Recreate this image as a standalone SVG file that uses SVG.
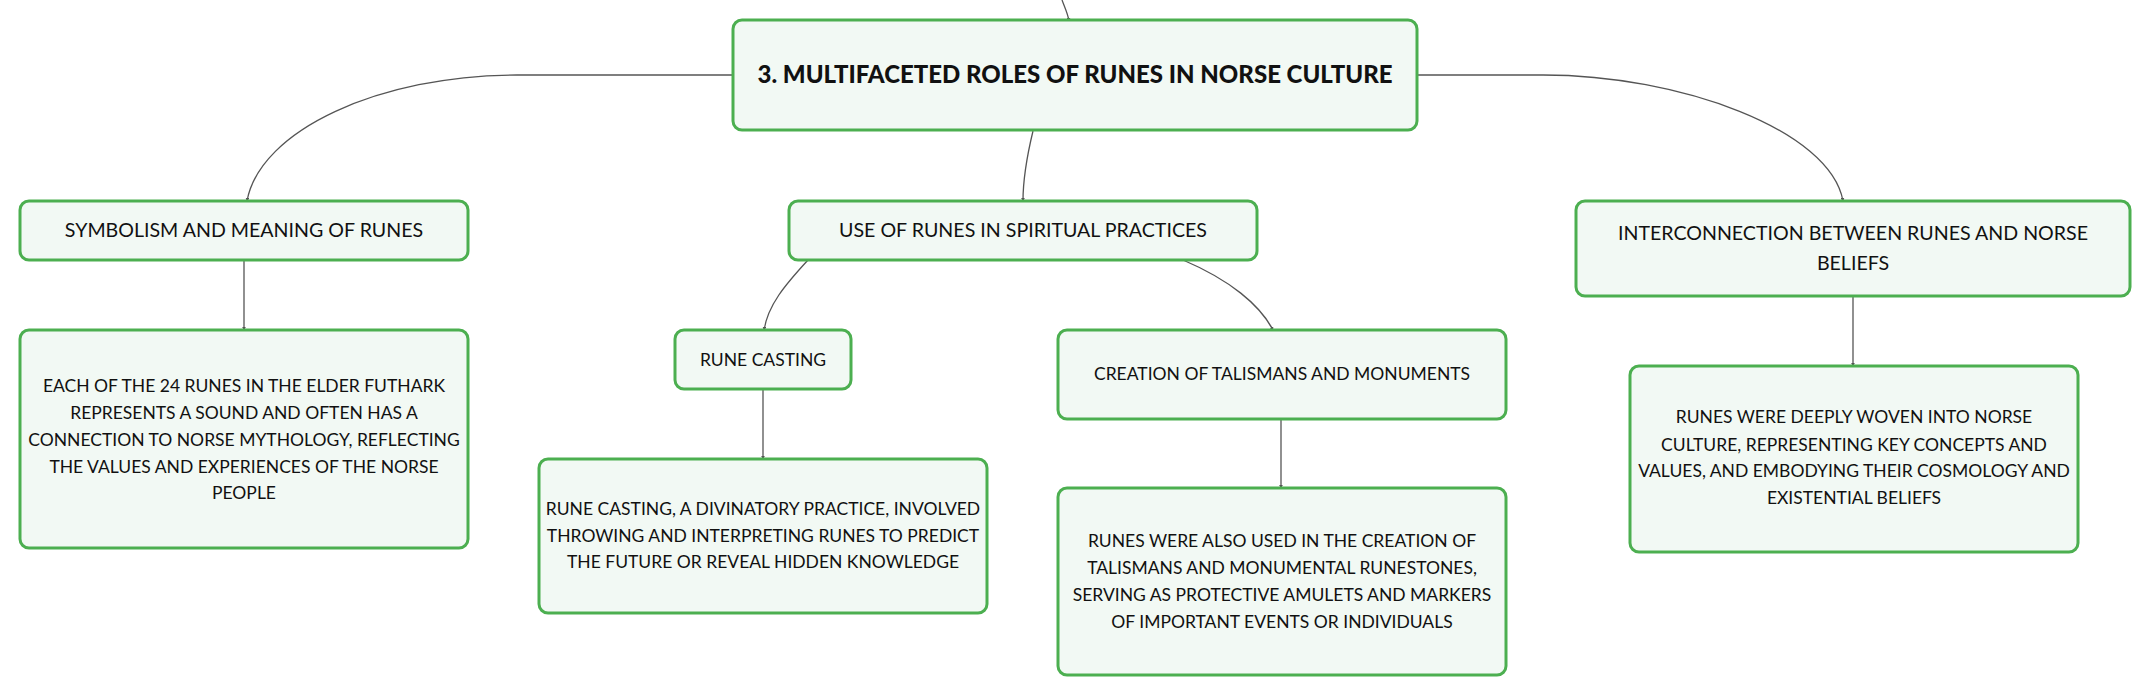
<svg xmlns="http://www.w3.org/2000/svg" width="2151" height="696" viewBox="0 0 2151 696">
<defs>
<style>
.box{fill:#f2f9f4;stroke:#4caf50;stroke-width:3;}
.t{font-family:Lato,"Liberation Sans",sans-serif;font-size:17.5px;fill:#111;text-anchor:middle;}
.t1{font-family:Lato,"Liberation Sans",sans-serif;font-size:19.6px;fill:#111;text-anchor:middle;}
.title{font-family:Lato,"Liberation Sans",sans-serif;font-size:24px;font-weight:900;fill:#111;text-anchor:middle;}
.c{fill:none;stroke:#555;stroke-width:1.3;marker-end:url(#arr);}
</style>
<marker id="arr" viewBox="0 0 6 6" refX="5" refY="3" markerWidth="3" markerHeight="3" orient="auto">
<path d="M0,0 L6,3 L0,6 z" fill="#555"/>
</marker>
</defs>
<rect width="2151" height="696" fill="#ffffff"/>
<g id="connectors">
<path class="c" d="M1062,0 C1065,8 1068,14 1069,21"/>
<path class="c" d="M733,75 L517,75 C380,75 260,130 247,201"/>
<path class="c" d="M1033,131 C1026,160 1023,180 1023,201"/>
<path class="c" d="M1417,75 L1543,75 C1680,75 1830,130 1843,201"/>
<path class="c" d="M244,260 L244,330"/>
<path class="c" d="M808,260 C785,285 768,305 764,330"/>
<path class="c" d="M1183,260 C1230,280 1260,305 1273,330"/>
<path class="c" d="M763,390 L763,459"/>
<path class="c" d="M1281,419 L1281,488"/>
<path class="c" d="M1853,296 L1853,366"/>
</g>
<g id="central">
<rect class="box" x="733" y="20" width="684" height="110" rx="9"/>
<text class="title" x="1075" y="83">3. MULTIFACETED ROLES OF RUNES IN NORSE CULTURE</text>
</g>
<g id="symbolism">
<rect class="box" x="20" y="201" width="448" height="59" rx="9"/>
<text class="t1" x="244" y="237">SYMBOLISM AND MEANING OF RUNES</text>
</g>
<g id="spiritual">
<rect class="box" x="789" y="201" width="468" height="59" rx="9"/>
<text class="t1" x="1023" y="237">USE OF RUNES IN SPIRITUAL PRACTICES</text>
</g>
<g id="interconnection">
<rect class="box" x="1576" y="201" width="554" height="95" rx="9"/>
<text class="t1" x="1853" y="240">INTERCONNECTION BETWEEN RUNES AND NORSE</text>
<text class="t1" x="1853" y="270">BELIEFS</text>
</g>
<g id="symbolism-detail">
<rect class="box" x="20" y="330" width="448" height="218" rx="9"/>
<text class="t" x="244" y="392">EACH OF THE 24 RUNES IN THE ELDER FUTHARK</text>
<text class="t" x="244" y="419">REPRESENTS A SOUND AND OFTEN HAS A</text>
<text class="t" x="244" y="446">CONNECTION TO NORSE MYTHOLOGY, REFLECTING</text>
<text class="t" x="244" y="473">THE VALUES AND EXPERIENCES OF THE NORSE</text>
<text class="t" x="244" y="499">PEOPLE</text>
</g>
<g id="rune-casting">
<rect class="box" x="675" y="330" width="176" height="59" rx="9"/>
<text class="t" x="763" y="366">RUNE CASTING</text>
</g>
<g id="talismans">
<rect class="box" x="1058" y="330" width="448" height="89" rx="9"/>
<text class="t" x="1282" y="380">CREATION OF TALISMANS AND MONUMENTS</text>
</g>
<g id="rune-casting-detail">
<rect class="box" x="539" y="459" width="448" height="154" rx="9"/>
<text class="t" x="763" y="515">RUNE CASTING, A DIVINATORY PRACTICE, INVOLVED</text>
<text class="t" x="763" y="542">THROWING AND INTERPRETING RUNES TO PREDICT</text>
<text class="t" x="763" y="568">THE FUTURE OR REVEAL HIDDEN KNOWLEDGE</text>
</g>
<g id="talismans-detail">
<rect class="box" x="1058" y="488" width="448" height="187" rx="9"/>
<text class="t" x="1282" y="547">RUNES WERE ALSO USED IN THE CREATION OF</text>
<text class="t" x="1282" y="574">TALISMANS AND MONUMENTAL RUNESTONES,</text>
<text class="t" x="1282" y="601">SERVING AS PROTECTIVE AMULETS AND MARKERS</text>
<text class="t" x="1282" y="628">OF IMPORTANT EVENTS OR INDIVIDUALS</text>
</g>
<g id="interconnection-detail">
<rect class="box" x="1630" y="366" width="448" height="186" rx="9"/>
<text class="t" x="1854" y="423">RUNES WERE DEEPLY WOVEN INTO NORSE</text>
<text class="t" x="1854" y="451">CULTURE, REPRESENTING KEY CONCEPTS AND</text>
<text class="t" x="1854" y="477">VALUES, AND EMBODYING THEIR COSMOLOGY AND</text>
<text class="t" x="1854" y="504">EXISTENTIAL BELIEFS</text>
</g>
</svg>
